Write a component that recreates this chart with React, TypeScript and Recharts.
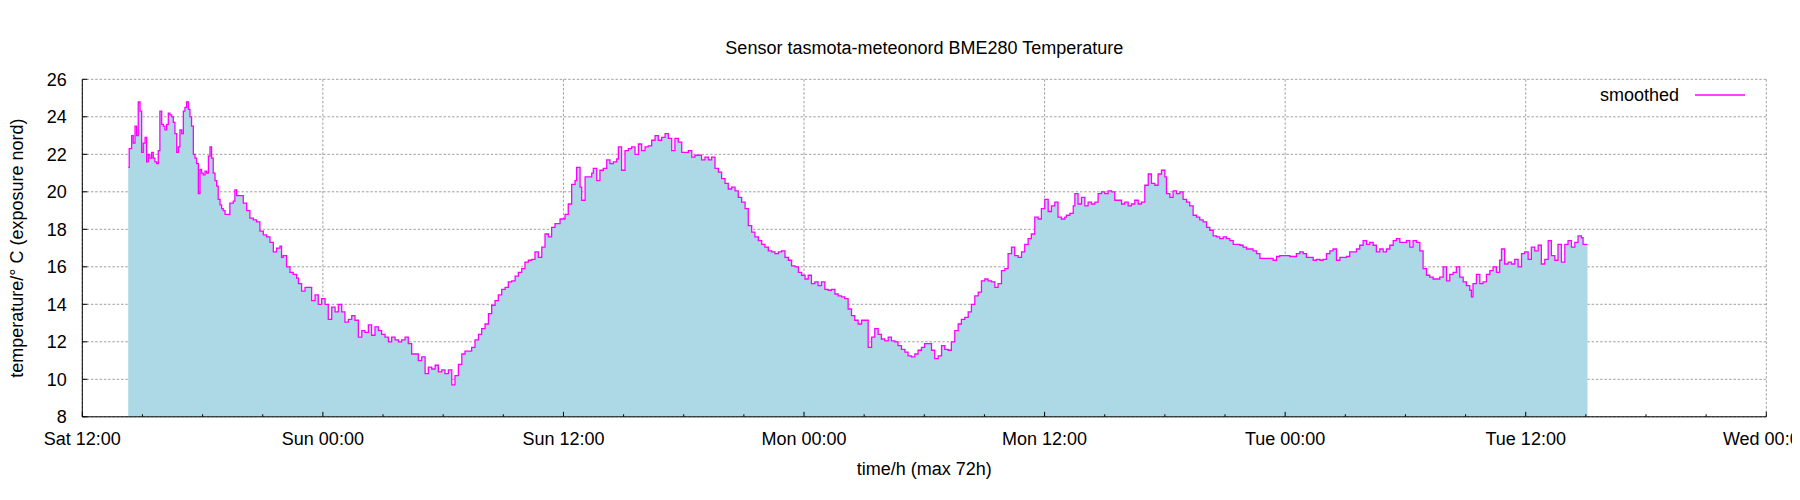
import React from "react";
import { ComposedChart, Area, XAxis, YAxis, CartesianGrid } from "recharts";

// hours since Sat 12:00, temperature in °C
const satSamples: [number, number][] = [
  [2.29,21.3],[2.34,22.3],[2.46,23.0],[2.54,22.6],[2.63,23.5],[2.71,23.0],[2.79,24.8],[2.88,24.3],[2.96,22.1],[3.04,22.6],
  [3.13,22.9],[3.21,21.6],[3.29,22.0],[3.37,21.8],[3.46,22.1],[3.54,21.8],[3.62,21.6],[3.71,21.5],[3.79,22.2],[3.87,24.3],
  [3.96,23.6],[4.04,23.5],[4.12,23.3],[4.21,23.6],[4.29,24.2],[4.37,24.1],[4.46,24.0],[4.54,23.7],[4.62,23.1],[4.71,22.1],
  [4.79,22.4],[4.87,23.3],[4.96,23.1],[5.04,24.3],[5.12,24.5],[5.20,24.8],[5.29,24.4],[5.37,24.0],[5.45,23.5],[5.54,22.0],
  [5.62,21.8],[5.70,21.5],[5.79,19.9],[5.87,21.2],[5.95,21.0],[6.03,20.9],[6.12,21.1],[6.20,21.0],[6.29,21.9],[6.37,22.4],
  [6.45,21.8],[6.53,21.0],[6.62,20.6],[6.70,20.3],[6.78,19.6],[6.87,19.3],[6.95,19.1],[7.03,19.0],[7.12,18.8],[7.20,18.8],
  [7.36,19.4],[7.53,19.5],[7.61,20.1],[7.70,19.8],[7.86,19.8],[8.03,19.4],[8.20,19.0],[8.36,18.6],[8.53,18.5],[8.69,18.4],
  [8.86,17.9],[9.03,17.7],[9.19,17.6],[9.36,17.3],[9.53,16.8],[9.69,17.0],[9.86,17.1],[9.94,16.5],[10.02,16.6],[10.19,16.0],
  [10.36,15.7],[10.52,15.6],[10.69,15.4],[10.78,15.1],[10.94,14.7],[11.11,14.9],[11.28,14.9],[11.44,14.2],[11.61,14.5],[11.77,14.0],
  [11.94,14.3],
];

const sunSamples: [number, number][] = [
  [12.11,14.0],[12.27,13.2],[12.44,13.85],[12.61,13.6],[12.77,14.0],[12.94,13.6],[13.10,13.05],[13.27,13.2],[13.44,13.4],[13.60,13.15],
  [13.77,12.25],[13.94,12.6],[14.10,12.5],[14.27,12.9],[14.43,12.35],[14.60,12.8],[14.77,12.6],[14.93,12.4],[15.10,12.25],[15.27,12.0],
  [15.43,12.25],[15.60,12.1],[15.77,12.0],[15.93,12.1],[16.10,12.25],[16.26,11.9],[16.43,11.35],[16.60,11.35],[16.76,11.0],[16.93,11.2],
  [17.10,10.3],[17.26,10.65],[17.43,10.55],[17.60,10.75],[17.76,10.4],[17.93,10.5],[18.09,10.3],[18.26,10.5],[18.43,9.7],[18.59,10.2],
  [18.76,10.8],[18.93,11.35],[19.09,11.5],[19.26,11.5],[19.42,11.7],[19.59,12.1],[19.76,12.4],[19.92,12.7],[20.09,12.95],[20.26,13.5],
  [20.42,13.95],[20.59,14.2],[20.75,14.5],[20.92,14.8],[21.09,14.9],[21.25,15.2],[21.42,15.25],[21.59,15.5],[21.75,15.7],[21.92,15.9],
  [22.08,16.25],[22.25,16.35],[22.42,16.4],[22.58,16.8],[22.75,16.5],[22.92,17.05],[23.08,17.75],[23.25,17.6],[23.41,18.1],[23.58,18.3],
  [23.83,18.55],[24.08,18.8],[24.24,19.35],[24.41,20.4],[24.58,20.6],[24.66,21.3],[24.83,20.25],[24.91,19.55],[25.08,20.8],[25.24,20.8],
  [25.41,21.0],[25.49,21.25],[25.66,20.6],[25.82,21.15],[25.99,21.25],[26.16,21.7],[26.32,21.5],[26.49,21.6],[26.66,21.75],[26.74,22.4],
  [26.90,21.15],[27.07,22.2],[27.24,22.3],[27.40,22.4],[27.57,22.0],[27.74,22.55],[27.90,22.2],[28.07,22.4],[28.23,22.45],[28.40,22.75],
  [28.57,23.0],[28.73,22.75],[28.90,22.9],[29.07,23.1],[29.23,22.85],[29.40,22.2],[29.56,22.85],[29.73,22.65],[29.90,22.1],[30.06,22.1],
  [30.23,22.2],[30.40,21.85],[30.56,21.95],[30.73,21.95],[30.89,21.7],[31.06,21.85],[31.23,21.7],[31.39,21.85],[31.56,21.25],[31.73,21.05],
  [31.89,20.7],[32.06,20.45],[32.22,20.15],[32.39,20.25],[32.56,20.05],[32.72,19.7],[32.89,19.45],[33.06,19.1],[33.22,18.2],[33.39,17.85],
  [33.55,17.6],[33.72,17.4],[33.89,17.2],[34.05,17.05],[34.22,16.85],[34.39,16.8],[34.55,16.7],[34.72,16.8],[34.88,16.85],[35.05,16.5],
  [35.22,16.35],[35.38,16.05],[35.55,16.0],[35.72,15.7],[35.88,15.55],
];

const monSamples: [number, number][] = [
  [36.05,15.35],[36.21,15.55],[36.37,15.1],[36.54,15.2],[36.70,15.0],[36.87,15.2],[37.04,14.8],[37.20,14.75],[37.37,14.8],[37.54,14.55],
  [37.70,14.45],[37.87,14.4],[38.03,14.3],[38.20,13.75],[38.37,13.4],[38.53,13.15],[38.70,12.95],[38.87,13.15],[39.03,13.15],[39.20,11.7],
  [39.37,12.25],[39.53,12.7],[39.70,12.4],[39.86,12.15],[40.03,12.05],[40.20,12.25],[40.36,12.05],[40.53,12.0],[40.69,11.8],[40.86,11.6],
  [41.03,11.45],[41.19,11.25],[41.36,11.2],[41.53,11.35],[41.69,11.55],[41.86,11.7],[42.02,11.9],[42.19,11.9],[42.36,11.55],[42.52,11.1],
  [42.69,11.25],[42.86,11.8],[43.02,11.6],[43.19,11.55],[43.35,12.0],[43.52,12.6],[43.69,12.95],[43.85,13.2],[44.02,13.3],[44.19,13.6],
  [44.35,14.0],[44.52,14.45],[44.69,14.65],[44.85,15.25],[45.02,15.35],[45.18,15.25],[45.35,15.2],[45.52,14.9],[45.68,15.1],[45.85,15.8],
  [46.02,15.9],[46.18,16.7],[46.35,17.05],[46.51,16.6],[46.68,16.5],[46.85,16.8],[47.01,17.2],[47.18,17.5],[47.34,17.75],[47.51,18.65],
  [47.68,18.55],[47.84,19.1],[48.01,19.6],[48.18,18.95],[48.34,19.25],[48.51,19.45],[48.67,18.65],[48.84,18.55],[49.01,18.65],[49.09,18.75],
  [49.26,18.85],[49.43,19.25],[49.51,19.9],[49.67,19.35],[49.84,19.7],[50.01,19.25],[50.17,19.45],[50.34,19.35],[50.51,19.45],[50.67,19.9],
  [50.84,20.0],[51.00,19.9],[51.17,20.05],[51.34,20.0],[51.50,19.55],[51.67,19.55],[51.84,19.35],[52.00,19.45],[52.17,19.25],[52.33,19.35],
  [52.50,19.55],[52.67,19.35],[52.83,19.45],[53.00,20.35],[53.17,20.95],[53.33,20.45],[53.50,20.35],[53.66,20.95],[53.83,21.15],[54.00,20.8],
  [54.08,19.9],[54.25,19.7],[54.41,20.05],[54.58,19.9],[54.75,20.0],[54.91,19.6],[55.08,19.45],[55.24,19.25],[55.41,18.75],[55.58,18.65],
  [55.74,18.5],[55.91,18.4],[56.08,18.1],[56.24,17.95],[56.41,17.65],[56.57,17.6],[56.74,17.5],[56.91,17.6],[57.07,17.5],[57.24,17.4],
  [57.41,17.2],[57.57,17.2],[57.74,17.15],[57.90,17.05],[58.07,16.95],[58.24,16.95],[58.40,16.85],[58.57,16.7],[58.74,16.45],[58.90,16.45],
  [59.07,16.45],[59.23,16.45],[59.40,16.35],[59.57,16.55],[59.73,16.6],[59.90,16.6],
];

const tueSamples: [number, number][] = [
  [60.07,16.6],[60.23,16.55],[60.40,16.55],[60.56,16.7],[60.73,16.8],[60.90,16.7],[61.06,16.5],[61.23,16.5],[61.40,16.35],[61.56,16.4],
  [61.73,16.35],[61.89,16.4],[62.06,16.7],[62.23,16.85],[62.39,16.95],[62.56,16.35],[62.73,16.5],[62.89,16.5],[63.06,16.55],[63.22,16.8],
  [63.39,16.8],[63.56,16.95],[63.72,17.15],[63.89,17.4],[64.06,17.2],[64.22,17.3],[64.39,17.15],[64.55,16.8],[64.72,16.95],[64.89,16.8],
  [65.05,16.95],[65.22,17.15],[65.39,17.4],[65.55,17.5],[65.72,17.3],[65.88,17.3],[66.05,17.4],[66.22,17.05],[66.38,17.4],[66.55,17.3],
  [66.72,16.85],[66.88,15.9],[67.05,15.55],[67.21,15.45],[67.38,15.35],[67.55,15.35],[67.71,15.45],[67.88,16.0],[68.05,15.25],[68.21,15.6],
  [68.38,15.7],[68.54,16.0],[68.71,15.45],[68.88,15.2],[69.04,15.0],[69.21,14.75],[69.29,14.4],[69.37,15.1],[69.54,15.6],[69.71,15.1],
  [69.87,15.2],[70.04,15.6],[70.21,15.8],[70.37,16.0],[70.54,15.7],[70.70,16.35],[70.79,16.95],[70.95,16.15],[71.12,16.25],[71.29,16.15],
  [71.45,16.4],[71.62,16.0],[71.79,16.7],[71.95,16.8],[72.12,16.4],[72.28,17.05],[72.45,16.85],[72.62,17.15],[72.78,16.15],[72.95,16.4],
  [73.12,17.4],[73.28,16.6],[73.45,16.35],[73.61,17.2],[73.78,16.25],[73.95,17.2],[74.11,17.4],[74.28,17.05],[74.45,17.3],[74.61,17.65],
  [74.78,17.55],[74.86,17.2],[75.03,17.2],[75.08,17.2],
];

const xTickHours = [0, 3, 6, 9, 12, 15, 18, 21, 24, 27, 30, 33, 36, 39, 42, 45, 48, 51, 54, 57, 60, 63, 66, 69, 72, 75, 78, 81, 84];
const xMajorHours = [0, 12, 24, 36, 48, 60, 72, 84];
const xTickLabels = ["Sat 12:00", "Sun 00:00", "Sun 12:00", "Mon 00:00", "Mon 12:00", "Tue 00:00", "Tue 12:00", "Wed 00:00"];
const yTicks = [8, 10, 12, 14, 16, 18, 20, 22, 24, 26];

const chartTitle = "Sensor tasmota-meteonord BME280 Temperature";
const xTitle = "time/h (max 72h)";
const yTitle = "temperature/\u00b0 C (exposure nord)";
const seriesName = "smoothed";

const data = [...satSamples, ...sunSamples, ...monSamples, ...tueSamples].map(([h, t]) => ({ h, t }));

const FONT = "'Liberation Sans', Arial, Helvetica, sans-serif";
const W = 1792;
const H = 484;
const MARGIN = { top: 71.3, right: 33.7, bottom: 15.2, left: 0 };
const Y_AXIS_W = 74.3;
const X_AXIS_H = 60;
const plotLeft = MARGIN.left + Y_AXIS_W;
const plotRight = W - MARGIN.right;
const plotTop = MARGIN.top;
const plotBottom = H - MARGIN.bottom - X_AXIS_H;
const plotCx = (plotLeft + plotRight) / 2;
const plotCy = (plotTop + plotBottom) / 2;

const isMajor = (v: number) => v % 12 === 0;

const BottomTick = (props: any) => {
  const { x, y, payload } = props;
  const v = payload.value;
  const len = isMajor(v) ? 5 : 2.5;
  return (
    <g>
      <line x1={x} y1={y} x2={x} y2={y - len} stroke="#000" strokeWidth={1} />
      {isMajor(v) && (
        <text x={x} y={y + 28.2} textAnchor="middle" fontFamily={FONT} fontSize={18} fill="#000">
          {xTickLabels[v / 12]}
        </text>
      )}
    </g>
  );
};

const TopTick = (props: any) => {
  const { x, y, payload } = props;
  const len = isMajor(payload.value) ? 5 : 2.5;
  return <line x1={x} y1={y} x2={x} y2={y + len} stroke="#000" strokeWidth={1} />;
};

const LeftTick = (props: any) => {
  const { x, y, payload } = props;
  return (
    <g>
      <line x1={x} y1={y} x2={x + 5} y2={y} stroke="#000" strokeWidth={1} />
      <text x={x - 15.6} y={y + 6.3} textAnchor="end" fontFamily={FONT} fontSize={18} fill="#000">
        {payload.value}
      </text>
    </g>
  );
};

const RightTick = (props: any) => {
  const { x, y } = props;
  return <line x1={x} y1={y} x2={x - 5} y2={y} stroke="#000" strokeWidth={1} />;
};

export default function App() {
  return (
    <div style={{ position: "relative", width: W, height: H, background: "#fff" }}>
      <ComposedChart width={W} height={H} data={data} margin={MARGIN}>
        <CartesianGrid
          stroke="#a0a0a0"
          strokeWidth={1}
          strokeDasharray="2.5 1.8"
          verticalValues={xMajorHours}
        />
        <XAxis
          dataKey="h"
          type="number"
          domain={[0, 84]}
          ticks={xTickHours}
          interval={0}
          height={X_AXIS_H}
          tickSize={0}
          tickMargin={0}
          tickLine={false}
          axisLine={{ stroke: "#000", strokeWidth: 1 }}
          tick={BottomTick}
          allowDataOverflow
        />
        <XAxis
          xAxisId="top"
          orientation="top"
          dataKey="h"
          type="number"
          domain={[0, 84]}
          ticks={xTickHours}
          interval={0}
          height={0}
          tickSize={0}
          tickMargin={0}
          tickLine={false}
          axisLine={{ stroke: "#000", strokeWidth: 1 }}
          tick={TopTick}
          allowDataOverflow
        />
        <YAxis
          type="number"
          domain={[8, 26]}
          ticks={yTicks}
          interval={0}
          width={Y_AXIS_W}
          tickSize={0}
          tickMargin={0}
          tickLine={false}
          axisLine={{ stroke: "#000", strokeWidth: 1 }}
          tick={LeftTick}
          allowDataOverflow
        />
        <YAxis
          yAxisId="right"
          orientation="right"
          type="number"
          domain={[8, 26]}
          ticks={yTicks}
          interval={0}
          width={0}
          tickSize={0}
          tickMargin={0}
          tickLine={false}
          axisLine={{ stroke: "#000", strokeWidth: 1 }}
          tick={RightTick}
          allowDataOverflow
        />
        <Area
          type="stepAfter"
          dataKey="t"
          name={seriesName}
          stroke="#ff00ff"
          strokeWidth={1.3}
          fill="#add8e6"
          fillOpacity={1}
          baseValue={8}
          dot={false}
          activeDot={false}
          isAnimationActive={false}
        />
      </ComposedChart>
      <svg
        width={W}
        height={H}
        style={{ position: "absolute", left: 0, top: 0, pointerEvents: "none" }}
      >
        <text x={plotCx} y={46} textAnchor="middle" fontFamily={FONT} fontSize={18} fill="#000">
          {chartTitle}
        </text>
        <text x={plotCx} y={466.5} textAnchor="middle" fontFamily={FONT} fontSize={18} fill="#000">
          {xTitle}
        </text>
        <text
          x={15.5}
          y={plotCy}
          transform={`rotate(-90, 15.5, ${plotCy})`}
          textAnchor="middle"
          fontFamily={FONT}
          fontSize={18}
          fill="#000"
        >
          {yTitle}
        </text>
        <text x={1671} y={93.4} textAnchor="end" fontFamily={FONT} fontSize={18} fill="#000">
          {seriesName}
        </text>
        <line x1={1687} y1={87} x2={1737} y2={87} stroke="#ff00ff" strokeWidth={1.3} />
      </svg>
    </div>
  );
}
